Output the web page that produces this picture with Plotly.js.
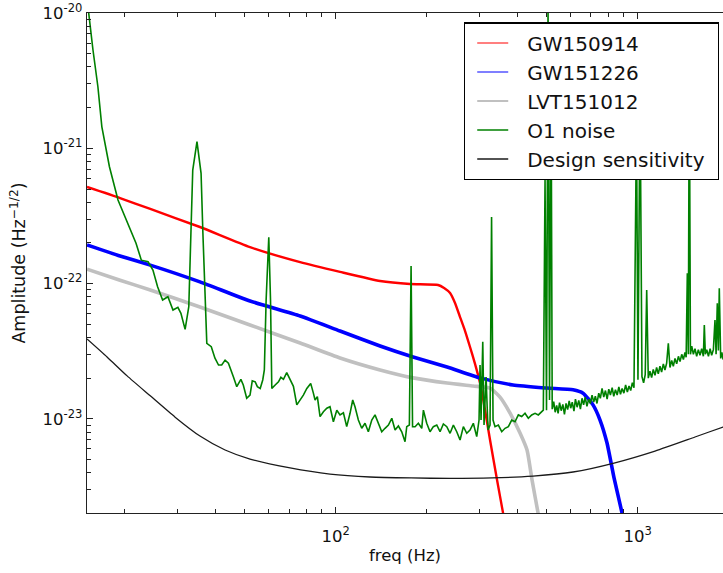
<!DOCTYPE html>
<html><head><meta charset="utf-8">
<script src="https://cdn.plot.ly/plotly-3.0.1.min.js"></script>
<style>html,body{margin:0;padding:0;background:#fff;overflow:hidden}</style>
</head><body><div id="chart" style="width:723px;height:573px"></div>
<script>
// ---- data (frequency in Hz, amplitude in Hz^-1/2) ----
const gw150914Freq = [15.0, 19.3, 24.3, 35.5, 52.0, 76.2, 103.3, 140.2, 176.2, 218.2, 228.4, 239.1, 248.3, 258.0, 268.1, 278.4, 289.2, 300.5, 312.2, 324.3, 342.1, 358.1, 377.8];
const gw150914Amp = [5.18e-22, 4.29e-22, 3.56e-22, 2.62e-22, 1.86e-22, 1.44e-22, 1.22e-22, 1.045e-22, 9.93e-23, 9.77e-23, 9.28e-23, 8.52e-23, 7.19e-23, 5.66e-23, 4.46e-23, 3.40e-23, 2.55e-23, 1.84e-23, 1.16e-23, 6.98e-24, 3.54e-24, 2.02e-24, 1.07e-24];

const gw151226Freq = [15.0, 19.3, 24.3, 35.5, 52.0, 76.2, 103.3, 140.2, 180.3, 233.7, 300.5, 386.4, 500.9, 610.7, 659.1, 711.2, 750.3, 791.4, 834.9, 887.2, 928.8];
const gw151226Amp = [1.93e-22, 1.60e-22, 1.37e-22, 1.03e-22, 7.44e-23, 5.76e-23, 4.46e-23, 3.46e-23, 2.87e-23, 2.42e-23, 2.01e-23, 1.78e-23, 1.69e-23, 1.64e-23, 1.55e-23, 1.27e-23, 9.81e-24, 6.63e-24, 3.66e-24, 2.02e-24, 1.17e-24];

const lvt151012Freq = [15.0, 19.3, 24.3, 35.5, 52.0, 76.2, 103.3, 140.2, 180.3, 233.7, 284.9, 324.3, 349.9, 377.8, 407.6, 430.0, 446.7, 467.7, 493.3];
const lvt151012Amp = [1.28e-22, 1.06e-22, 8.97e-23, 6.71e-23, 4.94e-23, 3.64e-23, 2.82e-23, 2.30e-23, 2.01e-23, 1.84e-23, 1.75e-23, 1.69e-23, 1.45e-23, 1.105e-23, 7.87e-24, 5.89e-24, 3.54e-24, 2.02e-24, 1.07e-24];

const o1NoiseFreq = [15.0, 15.2, 15.7, 16.3, 16.8, 17.8, 19.0, 20.2, 21.8, 22.7, 23.9, 24.8, 25.7, 26.7, 27.8, 28.9, 30.0, 30.7, 31.7, 32.6,
  33.6, 34.7, 35.8, 36.3, 37.2, 37.4, 38.7, 39.8, 40.9, 41.9, 43.0, 44.1, 45.8, 47.0, 48.5, 49.4, 50.7, 52.0, 52.9, 54.1,
  55.0, 56.2, 57.3, 58.0, 58.8, 60.0, 60.8, 61.4, 63.0, 64.6, 65.8, 67.1, 68.8, 70.6, 72.4, 74.3, 76.2, 78.1, 80.2, 82.6,
  84.3, 85.4, 86.9, 88.7, 91.0, 93.4, 95.7, 98.2, 100.8, 103.3, 106.0, 108.7, 111.5, 113.8, 115.8, 118.8, 121.9, 125.0, 128.2, 131.6,
  134.9, 138.4, 142.0, 145.6, 149.4, 153.3, 157.2, 161.2, 165.4, 169.6, 171.8, 175.3, 177.6, 179.6, 183.1, 187.7, 192.7, 195.1, 200.1, 205.2,
  210.5, 216.0, 221.5, 227.2, 233.2, 239.1, 245.2, 251.6, 258.0, 264.6, 271.5, 278.4, 285.5, 293.0, 298.2, 300.5, 302.8, 306.8, 309.8, 314.6,
  319.4, 324.3, 328.1, 331.8, 336.9, 345.5, 354.6, 363.6, 372.9, 382.6, 392.4, 402.4, 412.9, 423.4, 434.2, 445.6, 457.1, 468.7, 486.9, 493.3,
  498.9, 504.7, 510.5, 516.4, 521, 527, 533, 539, 545, 551, 558, 565, 572, 579, 586, 593, 600, 607, 615, 622,
  630, 638, 646, 654, 662, 670, 679, 688, 697, 706, 715, 724, 733, 743, 752, 762, 772, 782, 792, 802,
  812, 823, 833, 844, 855, 866, 877, 888, 900, 912, 924, 936, 948, 960, 972, 990.8, 1002, 1018, 1033, 1046,
  1059, 1071, 1084, 1098, 1112, 1126, 1141, 1155, 1170, 1185, 1200, 1216, 1231, 1247, 1263, 1279, 1296, 1312, 1329, 1346,
  1364, 1381, 1399, 1417, 1434, 1447, 1460, 1471, 1482, 1495, 1510, 1529, 1548, 1568, 1588, 1608, 1629, 1650, 1662, 1675,
  1693, 1715, 1737, 1758, 1781, 1803, 1818, 1835, 1850, 1863, 1873, 1883, 1900, 1917, 1950, 2000];
const o1NoiseAmp = [1.21e-20, 9.95e-21, 5.33e-21, 2.85e-21, 1.44e-21, 7.31e-22, 4.15e-22, 2.95e-22, 1.99e-22, 1.49e-22, 1.45e-22, 1.26e-22, 9.49e-23, 7.56e-23, 8.00e-23, 6.38e-23, 6.68e-23, 6.03e-23, 4.59e-23, 6.75e-23,
  6.91e-22, 1.12e-21, 6.53e-22, 2.37e-22, 4.29e-23, 3.62e-23, 3.42e-23, 2.81e-23, 2.50e-23, 2.50e-23, 2.72e-23, 2.58e-23, 2.05e-23, 1.73e-23, 1.96e-23, 1.78e-23, 1.42e-23, 1.50e-23, 1.91e-23, 1.88e-23,
  1.73e-23, 1.68e-23, 1.94e-23, 2.30e-23, 7.56e-23, 2.20e-22, 7.56e-23, 1.68e-23, 1.78e-23, 1.88e-23, 2.03e-23, 1.96e-23, 2.20e-23, 1.96e-23, 1.74e-23, 1.27e-23, 1.38e-23, 1.50e-23, 1.68e-23, 1.83e-23,
  1.55e-23, 1.38e-23, 1.46e-23, 1.04e-23, 1.13e-23, 1.20e-23, 1.23e-23, 9.53e-24, 1.16e-23, 1.07e-23, 1.11e-23, 8.76e-24, 1.10e-23, 1.38e-23, 1.23e-23, 9.81e-24, 8.52e-24, 9.28e-24, 8.04e-24, 9.81e-24,
  1.07e-23, 9.28e-24, 8.04e-24, 8.52e-24, 9.01e-24, 1.01e-23, 8.28e-24, 8.86e-24, 8.04e-24, 6.78e-24, 8.76e-24, 9.01e-24, 1.35e-22, 8.76e-24, 8.76e-24, 9.28e-24, 8.52e-24, 1.16e-23, 9.28e-24, 8.04e-24,
  8.76e-24, 9.01e-24, 8.04e-24, 9.17e-24, 8.76e-24, 7.83e-24, 9.01e-24, 8.04e-24, 6.98e-24, 8.76e-24, 7.83e-24, 8.28e-24, 9.28e-24, 7.39e-24, 9.81e-24, 2.50e-23, 9.81e-24, 3.72e-23, 9.01e-24, 2.04e-23,
  8.28e-24, 9.01e-24, 3.11e-22, 9.81e-24, 8.76e-24, 9.01e-24, 8.04e-24, 8.52e-24, 8.76e-24, 9.81e-24, 9.53e-24, 1.07e-23, 1.04e-23, 1.10e-23, 1.01e-23, 1.07e-23, 1.10e-23, 1.07e-23, 1.16e-23, 5.83e-22,
  1.16e-23, 1.15e-20, 1.38e-23, 4.49e-21, 1.18e-23, 1.34e-23, 1.12e-23, 1.26e-23, 1.10e-23, 1.32e-23, 1.15e-23, 1.28e-23, 1.08e-23, 1.30e-23, 1.17e-23, 1.36e-23, 1.20e-23, 1.33e-23, 1.14e-23, 1.40e-23,
  1.22e-23, 1.37e-23, 1.18e-23, 1.42e-23, 1.27e-23, 1.45e-23, 1.24e-23, 1.40e-23, 1.30e-23, 1.50e-23, 1.33e-23, 1.47e-23, 1.30e-23, 1.55e-23, 1.42e-23, 1.68e-23, 1.45e-23, 1.62e-23, 1.40e-23, 1.66e-23,
  1.50e-23, 1.70e-23, 1.47e-23, 1.64e-23, 1.50e-23, 1.72e-23, 1.52e-23, 1.68e-23, 1.55e-23, 1.78e-23, 1.58e-23, 1.75e-23, 1.62e-23, 1.85e-23, 1.70e-23, 1.62e-21, 1.95e-23, 2.70e-21, 2.05e-23, 1.85e-23,
  2.12e-23, 8.97e-23, 2.00e-23, 2.25e-23, 2.02e-23, 2.32e-23, 2.10e-23, 2.40e-23, 2.15e-23, 2.45e-23, 2.22e-23, 2.55e-23, 2.30e-23, 2.58e-23, 3.62e-23, 2.40e-23, 2.70e-23, 2.45e-23, 2.80e-23, 2.55e-23,
  2.90e-23, 2.65e-23, 3.00e-23, 2.75e-23, 3.10e-23, 2.85e-23, 1.19e-22, 3.00e-23, 4.49e-21, 3.00e-23, 3.45e-23, 3.00e-23, 3.30e-23, 2.90e-23, 3.25e-23, 2.95e-23, 3.30e-23, 2.90e-23, 4.94e-23, 3.00e-23,
  3.25e-23, 2.90e-23, 3.30e-23, 2.95e-23, 3.25e-23, 5.38e-23, 3.00e-23, 7.15e-23, 3.20e-23, 9.23e-23, 3.00e-23, 2.80e-23, 3.10e-23, 2.75e-23, 3.05e-23, 2.90e-23];

const designFreq = [15.0, 17.48, 20.37, 24.3, 29.37, 35.5, 43.0, 52.0, 70.6, 95.7, 129.9, 177.6, 239.1, 329.4, 450.1, 610.7, 834.9, 1141, 1548, 1917, 2000];
const designAmp = [3.90e-23, 2.87e-23, 2.08e-23, 1.48e-23, 1.03e-23, 7.47e-24, 5.89e-24, 5.05e-24, 4.34e-24, 3.91e-24, 3.72e-24, 3.66e-24, 3.63e-24, 3.66e-24, 3.78e-24, 4.05e-24, 4.72e-24, 5.79e-24, 7.35e-24, 8.71e-24, 9.01e-24];

const seriesNames = ['GW150914', 'GW151226', 'LVT151012', 'O1 noise', 'Design sensitivity'];

const xTickVals = [100, 1000];
const xTickText = ['10<sup>2</sup>', '10<sup>3</sup>'];
const xMinorVals = [20, 30, 40, 50, 60, 70, 80, 90, 200, 300, 400, 500, 600, 700, 800, 900, 2000];
const yTickVals = [1e-23, 1e-22, 1e-21, 1e-20];
const yTickText = ['10<sup>-23</sup>', '10<sup>-22</sup>', '10<sup>-21</sup>', '10<sup>-20</sup>'];
const yMinorVals = [3e-24, 4e-24, 5e-24, 6e-24, 7e-24, 8e-24, 9e-24,
  2e-23, 3e-23, 4e-23, 5e-23, 6e-23, 7e-23, 8e-23, 9e-23,
  2e-22, 3e-22, 4e-22, 5e-22, 6e-22, 7e-22, 8e-22, 9e-22,
  2e-21, 3e-21, 4e-21, 5e-21, 6e-21, 7e-21, 8e-21, 9e-21];

const FONT = 'DejaVu Sans, Bitstream Vera Sans, sans-serif';
const seriesColors = ['#ff0000', '#0000ff', '#c0c0c0', '#008000', '#1a1a1a'];
const legendLineWidths = [1.2, 1.2, 2, 1.5, 1.5];

const traces = [
  {x: gw150914Freq, y: gw150914Amp, name: seriesNames[0], mode: 'lines', line: {color: seriesColors[0], width: 2.4, shape: 'spline', smoothing: 0.5}},
  {x: gw151226Freq, y: gw151226Amp, name: seriesNames[1], mode: 'lines', line: {color: seriesColors[1], width: 3.6, shape: 'spline', smoothing: 0.5}},
  {x: lvt151012Freq, y: lvt151012Amp, name: seriesNames[2], mode: 'lines', line: {color: seriesColors[2], width: 3.6, shape: 'spline', smoothing: 0.5}},
  {x: o1NoiseFreq, y: o1NoiseAmp, name: seriesNames[3], mode: 'lines', line: {color: seriesColors[3], width: 1.6}},
  {x: designFreq, y: designAmp, name: seriesNames[4], mode: 'lines', line: {color: seriesColors[4], width: 1.3, shape: 'spline', smoothing: 0.6}}
];

const axisCommon = {
  type: 'log', showgrid: false, zeroline: false, showline: true, linecolor: '#222', linewidth: 1.3,
  ticks: 'inside', ticklen: 6, tickwidth: 1, tickcolor: '#222', tickmode: 'array',
  tickfont: {family: FONT, size: 16.5, color: '#111'}
};

const layout = {
  width: 723, height: 573,
  margin: {l: 87, r: 0, t: 13, b: 60, autoexpand: false},
  paper_bgcolor: '#fff', plot_bgcolor: '#fff',
  font: {family: FONT, color: '#111'},
  showlegend: true,
  xaxis: Object.assign({}, axisCommon, {
    range: [Math.log10(15), Math.log10(1916.5)],
    tickvals: xTickVals, ticktext: xTickText, mirror: 'allticks',
    ticklabelstandoff: 8,
    minor: {tickvals: xMinorVals, ticks: 'inside', ticklen: 4, tickcolor: '#222', tickwidth: 1},
    title: {text: 'freq (Hz)', font: {family: FONT, size: 16.5, color: '#111'}, standoff: 4},
    automargin: false
  }),
  yaxis: Object.assign({}, axisCommon, {
    range: [-23.6955, -20],
    tickvals: yTickVals, ticktext: yTickText, mirror: false,
    minor: {tickvals: yMinorVals, ticks: 'inside', ticklen: 4, tickcolor: '#222', tickwidth: 1},
    title: {text: 'Amplitude (Hz<sup>\u22121/2</sup>)', font: {family: FONT, size: 17.5, color: '#111'}, standoff: 12},
    automargin: false
  }),
  legend: {
    x: 0.5928, y: 0.9814, xanchor: 'left', yanchor: 'top',
    bgcolor: '#fff', bordercolor: '#000', borderwidth: 1.2,
    font: {family: FONT, size: 20, color: '#111'},
    itemwidth: 52, tracegroupgap: 0
  }
};

Plotly.newPlot('chart', traces, layout, {staticPlot: true, displayModeBar: false}).then(function (gd) {
  // thin, short sample lines in the legend, as in the original figure
  gd.querySelectorAll('.legend .traces').forEach(function (g, i) {
    g.querySelectorAll('path.js-line').forEach(function (p) {
      p.style.strokeWidth = legendLineWidths[i] + 'px';
      p.setAttribute('d', 'M12,0h31');
    });
  });
  // slightly wider legend frame (extra right padding, as in the original)
  const bg = gd.querySelector('.legend rect.bg');
  if (bg) {
    const w = parseFloat(bg.getAttribute('width'));
    if (!isNaN(w)) bg.setAttribute('width', w + 8);
  }
});
</script>
</body></html>
